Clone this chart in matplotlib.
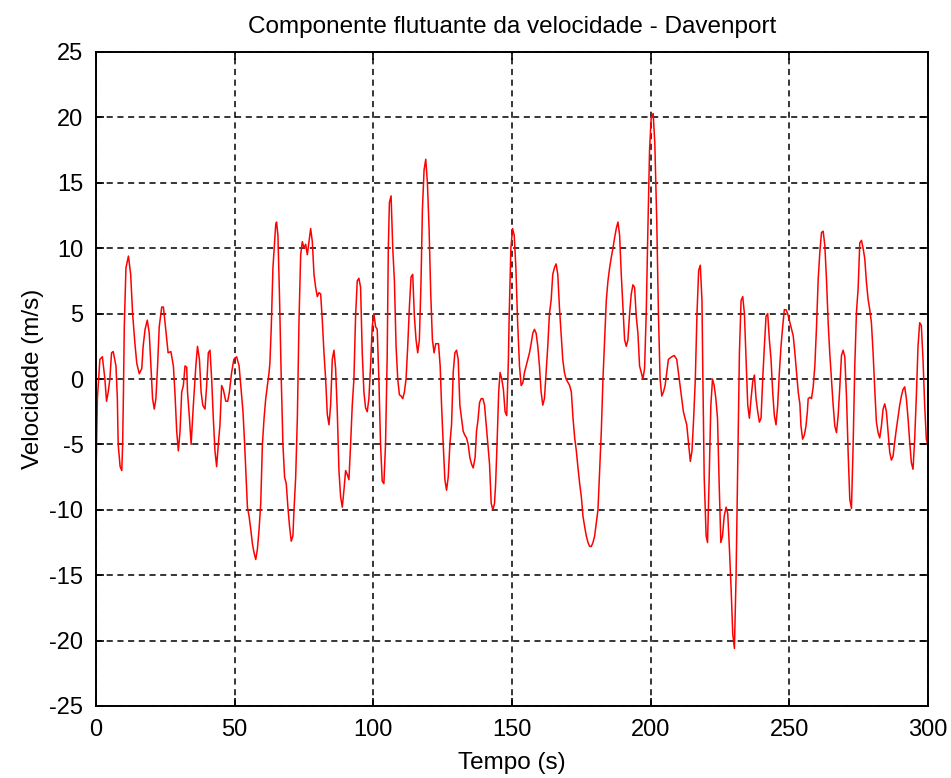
import numpy as np
import matplotlib
matplotlib.use("Agg")
import matplotlib.pyplot as plt

# velocity fluctuation, in 50 s chunks
t_000 = [0, 0.5, 1.4, 2.3, 3.2, 3.8, 4.4, 5.0, 5.6, 6.2, 7.2, 7.7, 8.0, 8.7, 9.3, 9.6, 9.9, 10.2, 10.8, 11.7,
         12.5, 13.2, 14.0, 14.7, 15.6, 16.5, 17.0, 17.7, 18.5, 19.2, 19.8, 20.4, 21.0, 21.6, 22.2, 22.8, 23.7, 24.3,
         24.9, 25.5, 26.0, 27.0, 27.9, 28.5, 29.1, 29.7, 30.3, 30.9, 31.5, 32.1, 32.7, 33.0, 33.7, 34.3, 35.1, 36.0,
         36.6, 37.3, 37.9, 38.5, 39.3, 39.9, 40.5, 41.1, 41.7, 42.3, 42.9, 43.5, 44.1, 44.7, 45.3, 45.9, 46.8, 47.5,
         48.1, 48.9, 49.7]
v_000 = [-7.4, -1.5, 1.5, 1.7, 0, -1.7, -1.0, 0, 2.0, 2.1, 1.0, -1.5, -5.0, -6.7, -7.0, -5.0, -1.0, 4.0, 8.5, 9.4,
         8.0, 5.0, 2.8, 1.2, 0.4, 0.8, 2.5, 3.8, 4.5, 3.5, 1.0, -1.5, -2.3, -1.5, 1.0, 4.0, 5.5, 5.5,
         4.3, 3.0, 2.0, 2.1, 1.0, -1.2, -4.0, -5.5, -4.0, -1.0, -0.5, 1.0, 0.9, -1.0, -3.0, -5.0, -2.0, 1.0,
         2.5, 1.5, -1.0, -2.0, -2.3, -0.5, 2.0, 2.2, 0, -3.0, -5.5, -6.7, -5.0, -3.5, -0.5, -0.8, -1.7, -1.7,
         -1.0, 0.5, 1.5]

t_050 = [50.7, 51.6, 52.2, 53.0, 53.6, 54.2, 54.6, 55.2, 55.8, 56.4, 57.0, 57.6, 58.2, 58.8, 59.4, 60.0, 60.6,
         61.2, 61.8, 62.4, 62.7, 63.2, 63.8, 64.4, 64.8, 65.1, 65.6, 66.2, 66.8, 67.4, 68.0, 68.6, 69.2, 69.8,
         70.4, 71.0, 71.4, 72.0, 72.6, 73.2, 73.8, 74.4, 75.0, 75.6, 76.2, 76.8, 77.4, 78.0, 78.6, 79.2, 79.8,
         80.4, 81.0, 81.6, 82.2, 82.8, 83.4, 84.0, 84.6, 85.2, 85.8, 86.4, 87.0, 87.6, 88.2, 88.8, 89.4, 90.0,
         90.6, 91.2, 91.8, 92.4, 93.0, 93.6, 94.2, 94.8, 95.4, 96.0, 96.6, 97.2, 97.8, 98.4, 99.0, 99.6]
v_050 = [1.7, 1.0, -0.5, -2.5, -5.0, -8.0, -9.8, -10.5, -11.5, -12.6, -13.3, -13.8, -13.0, -11.5, -9.5, -5.0, -3.0,
         -1.5, -0.5, 0.5, 1.2, 4.0, 8.5, 10.5, 11.8, 12.0, 11.0, 6.0, 0, -5.0, -7.5, -8.0, -9.8, -11.3,
         -12.4, -12.0, -10.0, -7.5, -3.0, 4.5, 9.5, 10.5, 10.0, 10.3, 9.5, 10.5, 11.5, 10.5, 8.0, 7.0, 6.3,
         6.6, 6.5, 4.5, 2.0, 0, -2.7, -3.5, -2.0, 1.5, 2.2, 0.8, -2.5, -7.0, -9.0, -9.8, -8.5, -7.0,
         -7.3, -7.7, -5.0, -2.0, 0, 4.8, 7.5, 7.7, 7.0, 2.0, -1.0, -2.2, -2.5, -1.5, 1.0, 4.0]

t_100 = [100.2, 100.8, 101.4, 102.0, 102.6, 103.2, 103.8, 104.4, 105.0, 105.4, 105.8, 106.4, 107.0, 107.6, 108.2,
         108.8, 109.4, 110.0, 110.6, 111.2, 111.8, 112.4, 113.0, 113.6, 114.2, 114.8, 115.4, 116.0, 116.6, 117.2,
         117.7, 118.3, 118.9, 119.5, 120.1, 120.7, 121.3, 121.9, 122.5, 123.5, 124.1, 124.6, 125.2, 125.8, 126.4,
         127.0, 127.6, 128.2, 128.8, 129.4, 130.0, 130.6, 131.2, 131.8, 132.4, 133.0, 133.6, 134.2, 134.8, 135.4,
         136.0, 136.7, 137.2, 137.7, 138.3, 138.9, 139.5, 140.1, 140.7, 141.3, 141.9, 142.5, 143.1, 143.7, 144.1,
         144.6, 145.2, 145.7, 146.3, 146.9, 147.5, 148.1, 148.7, 149.0, 149.6]
v_100 = [5.0, 4.0, 3.8, 0, -5.0, -7.8, -8.0, -5.0, 1.8, 10.0, 13.5, 14.0, 10.0, 7.5, 2.5,
         0, -1.2, -1.3, -1.5, -1.0, 0, 2.5, 5.5, 7.8, 8.0, 4.8, 3.0, 2.0, 3.0, 7.5,
         13.0, 16.0, 16.8, 15.0, 11.5, 6.5, 3.0, 2.0, 2.7, 2.7, 1.0, -2.0, -5.0, -7.7, -8.5,
         -7.5, -5.0, -3.5, 0.5, 2.0, 2.2, 1.5, -2.0, -3.0, -4.0, -4.3, -4.5, -5.0, -6.0, -6.5,
         -6.8, -6.0, -4.0, -3.2, -1.8, -1.5, -1.5, -2.0, -3.5, -5.0, -6.5, -9.5, -10.0, -9.5, -8.0,
         -5.0, -1.0, 0.5, 0, -0.8, -2.5, -2.8, 1.5, 5.0, 10.0]

t_150 = [150.2, 150.8, 151.4, 152.0, 152.7, 153.3, 153.9, 154.5, 155.1, 155.7, 156.3, 156.9, 157.5, 158.1, 158.7,
         159.3, 159.9, 160.5, 161.1, 161.7, 162.3, 162.9, 163.5, 164.1, 164.7, 165.3, 165.9, 166.5, 167.1, 167.7,
         168.3, 168.9, 169.5, 170.8, 171.4, 172.0, 172.6, 173.2, 173.8, 174.4, 175.0, 175.6, 176.2, 176.8, 177.4,
         178.0, 178.6, 179.2, 179.8, 180.4, 181.0, 181.6, 182.2, 182.8, 183.4, 184.0, 184.6, 185.2, 185.8, 186.4,
         187.0, 187.6, 188.2, 188.8, 189.4, 190.0, 190.6, 191.2, 191.8, 192.4, 193.0, 193.6, 194.2, 194.8, 195.4,
         196.0, 196.6, 197.2, 197.8, 198.4, 199.0, 199.6]
v_150 = [11.5, 11.0, 8.5, 4.5, 1.0, -0.5, -0.3, 0.5, 1.0, 1.5, 2.0, 2.7, 3.5, 3.8, 3.5,
         2.5, 1.0, -1.0, -2.0, -1.5, 0.5, 2.5, 5.0, 6.0, 8.0, 8.5, 8.8, 8.0, 5.5, 3.5,
         1.5, 0.5, 0, -0.5, -1.0, -3.0, -4.5, -5.5, -6.8, -8.0, -9.0, -10.5, -11.3, -12.0, -12.5,
         -12.8, -12.8, -12.5, -12.0, -11.0, -10.0, -7.0, -4.0, 0, 3.0, 6.0, 7.5, 8.5, 9.3, 10.0,
         10.8, 11.5, 12.0, 11.0, 8.0, 5.5, 3.0, 2.5, 3.0, 5.0, 6.5, 7.2, 7.0, 4.8, 3.5,
         1.0, 0.5, 0, 0.8, 5.0, 11.5, 17.5]

t_200 = [200.2, 200.9, 201.5, 202.2, 202.8, 203.4, 204.0, 204.6, 205.2, 205.8, 206.4, 207.6, 208.5, 209.4, 210.0,
         210.6, 211.2, 211.8, 212.4, 213.0, 213.7, 214.3, 214.9, 215.5, 216.1, 216.7, 217.3, 217.9, 218.5, 218.8,
         219.3, 220.0, 220.5, 221.1, 221.7, 222.3, 222.9, 223.5, 224.1, 224.7, 225.3, 225.9, 226.5, 227.2, 227.8,
         228.4, 229.0, 229.6, 230.2, 230.8, 231.4, 232.0, 232.6, 233.2, 233.8, 234.4, 235.0, 235.6, 236.2, 236.8,
         237.4, 238.0, 238.6, 239.2, 239.8, 240.4, 241.0, 241.6, 242.2, 242.8, 243.4, 244.0, 244.6, 245.2, 245.8,
         246.4, 247.0, 247.6, 248.2, 248.8, 249.4, 250.0]
v_200 = [20.0, 20.3, 18.0, 12.0, 5.0, 0, -1.3, -1.0, -0.5, 0.5, 1.5, 1.7, 1.8, 1.5, 0.5,
         -0.5, -1.5, -2.5, -3.0, -3.5, -5.0, -6.3, -5.5, -3.0, 0, 5.0, 8.3, 8.7, 6.0, 0.5,
         -7.5, -12.0, -12.5, -7.5, -2.0, 0, -0.5, -1.5, -3.0, -8.0, -12.5, -12.0, -10.5, -9.8, -10.3,
         -13.0, -16.0, -19.5, -20.6, -15.0, -6.5, 2.0, 6.0, 6.3, 5.0, 1.5, -2.0, -3.0, -1.5, -0.2,
         0.3, -1.5, -2.5, -3.3, -3.0, 0, 2.5, 4.8, 5.0, 3.0, 1.5, -1.0, -2.8, -3.5, -2.0,
         0.5, 2.5, 4.0, 5.3, 5.3, 5.0, 4.5]

t_250 = [250.8, 251.4, 252.0, 252.6, 253.2, 253.8, 254.2, 254.8, 255.4, 256.0, 256.5, 256.8, 257.4, 258.0, 258.6,
         259.2, 259.8, 260.4, 261.0, 261.6, 262.2, 262.8, 263.4, 264.0, 264.6, 265.2, 265.8, 266.4, 267.0, 267.6,
         268.2, 268.8, 269.4, 270.0, 270.6, 271.2, 271.8, 272.4, 273.0, 273.6, 274.2, 274.8, 275.4, 276.0, 276.6,
         277.2, 277.8, 278.4, 279.0, 279.6, 280.2, 280.8, 281.4, 282.0, 282.6, 283.2, 283.8, 284.4, 285.0, 285.6,
         286.2, 286.8, 287.4, 288.0, 288.6, 289.2, 289.8, 290.4, 291.0, 291.6, 292.2, 292.8, 293.4, 294.0, 294.6,
         295.2, 295.8, 296.4, 297.0, 297.6, 298.2, 298.8, 299.4, 300.0]
v_250 = [3.8, 3.3, 2.0, 0.5, -1.0, -1.9, -3.6, -4.6, -4.3, -3.6, -2.5, -1.5, -1.4, -1.5, -0.6,
         1.0, 4.0, 7.6, 9.7, 11.2, 11.3, 10.2, 7.6, 4.3, 1.9, 0, -2.0, -3.6, -4.1, -2.8,
         -0.6, 1.8, 2.2, 1.7, -1.3, -5.6, -9.2, -9.9, -5.1, 1.0, 5.1, 6.9, 10.4, 10.6, 10.0,
         9.2, 7.4, 6.1, 5.3, 4.3, 2.0, -0.8, -3.3, -4.1, -4.5, -3.6, -2.3, -1.9, -2.5, -4.1,
         -5.6, -6.2, -5.9, -4.8, -3.8, -2.9, -2.0, -1.3, -0.8, -0.6, -1.5, -3.0, -4.8, -6.4, -6.9,
         -4.6, -1.3, 2.5, 4.3, 4.1, 1.5, -2.0, -4.6, -5.1]

x_ticks = [0, 50, 100, 150, 200, 250, 300]
y_ticks = [-25, -20, -15, -10, -5, 0, 5, 10, 15, 20, 25]

tempo = np.concatenate([t_000, t_050, t_100, t_150, t_200, t_250])
velocidade = np.concatenate([v_000, v_050, v_100, v_150, v_200, v_250])

plt.rcParams['font.family'] = ['Liberation Sans', 'DejaVu Sans']
plt.rcParams['font.size'] = 17
plt.rcParams['axes.unicode_minus'] = False

fig = plt.figure(figsize=(9.51, 7.78), dpi=100)
ax = fig.add_axes([96 / 951, 1 - 706 / 778, 832 / 951, 654 / 778])

ax.plot(tempo, velocidade, color='red', lw=1.1)

ax.set_xlim(0, 300)
ax.set_ylim(-25, 25)
ax.set_xticks(x_ticks)
ax.set_yticks(y_ticks)
ax.grid(True, color='black', linestyle=(0, (4, 3)), lw=1.1)
ax.tick_params(direction='in', length=6, width=1.2, top=True, right=True, pad=9)
for s in ax.spines.values():
    s.set_linewidth(1.4)

ax.set_title('Componente flutuante da velocidade - Davenport', fontsize=17.5, pad=14)
ax.set_xlabel('Tempo (s)', fontsize=17.5, labelpad=8)
ax.set_ylabel('Velocidade (m/s)', fontsize=17.5, labelpad=4)

fig.savefig('out.png', dpi=100)
